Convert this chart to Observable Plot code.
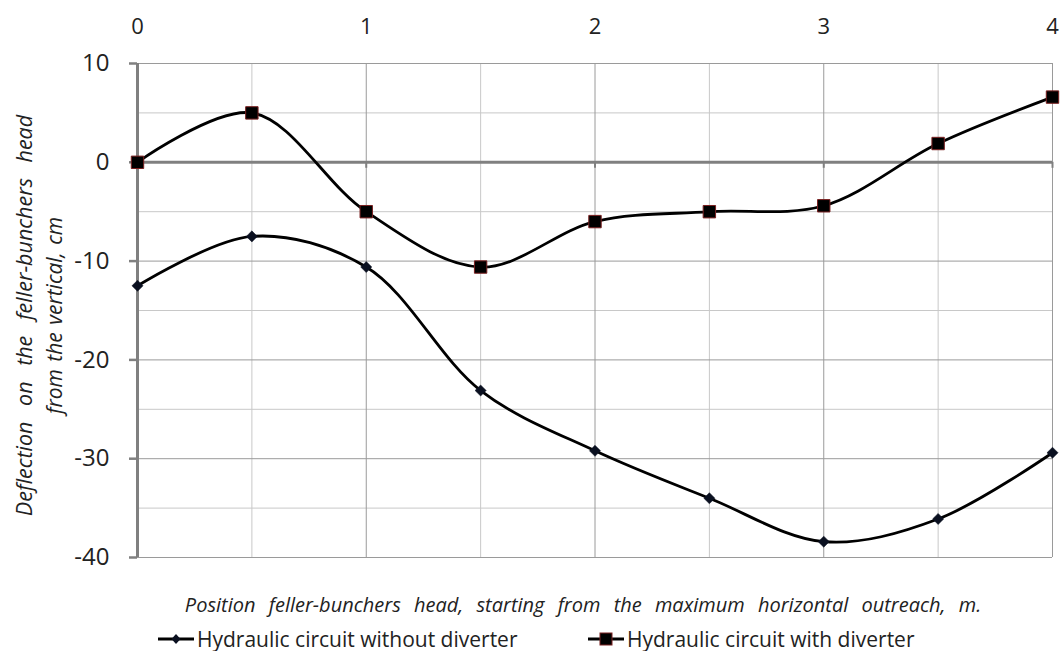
<!DOCTYPE html>
<html>
<head>
<meta charset="utf-8">
<script src="https://cdn.jsdelivr.net/npm/d3@7"></script>
<script src="https://cdn.jsdelivr.net/npm/@observablehq/plot@0.6"></script>
<style>
  html, body { margin: 0; padding: 0; background: #fff; }
  body { width: 1061px; height: 651px; position: relative; overflow: hidden; font-family: "Open Sans", sans-serif; }
  #legend { position: absolute; left: 0; top: 627px; width: 1061px; height: 24px; font-size: 21px; color: #222; }
  .item { position: absolute; top: 0; display: flex; align-items: center; line-height: 24px; height: 24px; }
  .item svg { margin-right: 2px; }
</style>
</head>
<body>
<div id="chart"></div>
<div id="legend"></div>
<script>
// Position of the feller-buncher head (m)
const positions = [0, 0.5, 1, 1.5, 2, 2.5, 3, 3.5, 4];
// Deflection (cm)
const withoutDiverter = [-12.5, -7.5, -10.6, -23.1, -29.2, -34.0, -38.4, -36.1, -29.4];
const withDiverter = [0, 5, -5, -10.6, -6.0, -5.0, -4.4, 1.9, 6.6];
const seriesNames = ["Hydraulic circuit without diverter", "Hydraulic circuit with diverter"];
const xTicks = [0, 1, 2, 3, 4];
const xMinor = [0.5, 1.5, 2.5, 3.5];
const yTicks = [10, 0, -10, -20, -30, -40];
const yMinor = [5, -5, -15, -25, -35];
const yTitle = ["Deflection on the feller-bunchers head", "from the vertical, cm"];
const xTitle = "Position feller-bunchers head, starting from the maximum horizontal outreach, m.";

const rowsA = positions.map((x, i) => ({x, y: withoutDiverter[i]}));
const rowsB = positions.map((x, i) => ({x, y: withDiverter[i]}));

const fmt = d => String(d);

const chart = Plot.plot({
  width: 1061,
  height: 627,
  marginLeft: 137,
  marginRight: 9,
  marginTop: 63,
  marginBottom: 70,
  style: {fontFamily: "'Open Sans', sans-serif", background: "#fff", color: "#222"},
  x: {domain: [0, 4], axis: null},
  y: {domain: [-40, 10]},
  marks: [
    // minor gridlines
    Plot.ruleX(xMinor, {stroke: "#c8c8c8", strokeWidth: 1}),
    Plot.ruleY(yMinor, {stroke: "#c8c8c8", strokeWidth: 1}),
    // major gridlines
    Plot.ruleX(xTicks, {stroke: "#9a9a9a", strokeWidth: 1}),
    Plot.ruleY(yTicks, {stroke: "#9a9a9a", strokeWidth: 1}),
    // zero line (x axis)
    Plot.ruleY([0], {stroke: "#808080", strokeWidth: 3}),
    Plot.ruleX(xTicks, {y1: 0, y2: 0, insetBottom: -6, stroke: "#808080", strokeWidth: 2}),
    // y axis line
    Plot.ruleX([0], {stroke: "#808080", strokeWidth: 3}),
    Plot.axisY(yTicks, {tickSize: 8, tickPadding: 20, fontSize: 24, stroke: "#808080", strokeWidth: 2.5, label: null, color: "#222", tickFormat: fmt}),
    // top x tick labels
    Plot.text(xTicks, {x: d => d, text: fmt, frameAnchor: "top", dy: -30, lineAnchor: "bottom", fontSize: 22, fill: "#222"}),
    // series
    Plot.line(rowsA, {x: "x", y: "y", curve: "catmull-rom", stroke: "#000", strokeWidth: 2.8}),
    Plot.line(rowsB, {x: "x", y: "y", curve: "catmull-rom", stroke: "#000", strokeWidth: 2.8}),
    Plot.dot(rowsA, {x: "x", y: "y", symbol: "diamond2", r: 5, fill: "#0a1020", stroke: "#0a1020", strokeWidth: 0.5}),
    Plot.dot(rowsB, {x: "x", y: "y", symbol: "square", r: 7, fill: "#000", stroke: "#7a2020", strokeWidth: 1}),
    // axis titles
    Plot.text([xTitle], {frameAnchor: "bottom", dx: -12, dy: 54, fontSize: 20, fontStyle: "italic", fill: "#222", ariaLabel: () => "xtitle"}),
    Plot.text([yTitle[0]], {frameAnchor: "left", dx: -112, dy: 5, textAnchor: "middle", rotate: -90, fontSize: 21.5, fontStyle: "italic", fill: "#222", ariaLabel: () => "ytitle1"}),
    Plot.text([yTitle[1]], {frameAnchor: "left", dx: -82, dy: 5, textAnchor: "middle", rotate: -90, fontSize: 21, fontStyle: "italic", fill: "#222", ariaLabel: () => "ytitle2"})
  ]
});
document.getElementById("chart").appendChild(chart);

// word spacing as in the reference
const sel = d3.select(chart);
sel.selectAll('[aria-label="ytitle1"]').style("word-spacing", "10px");
sel.selectAll('[aria-label="ytitle2"]').style("word-spacing", "2px");
sel.selectAll('[aria-label="xtitle"]').style("word-spacing", "8px");

// legend
const legend = document.getElementById("legend");
const lefts = [157, 587];
seriesNames.forEach((name, i) => {
  const item = document.createElement("div");
  item.className = "item";
  item.style.left = lefts[i] + "px";
  const sw = i === 0
    ? `<svg width="38" height="24"><line x1="1" y1="12" x2="37" y2="12" stroke="#000" stroke-width="3"/><path d="M19 7 L23.5 12 L19 17 L14.5 12 Z" fill="#0a1020"/></svg>`
    : `<svg width="38" height="24"><line x1="1" y1="12" x2="37" y2="12" stroke="#000" stroke-width="3"/><rect x="13" y="6" width="12" height="12" fill="#000" stroke="#7a2020" stroke-width="1"/></svg>`;
  item.innerHTML = sw + `<span>${name}</span>`;
  legend.appendChild(item);
});
</script>
</body>
</html>
